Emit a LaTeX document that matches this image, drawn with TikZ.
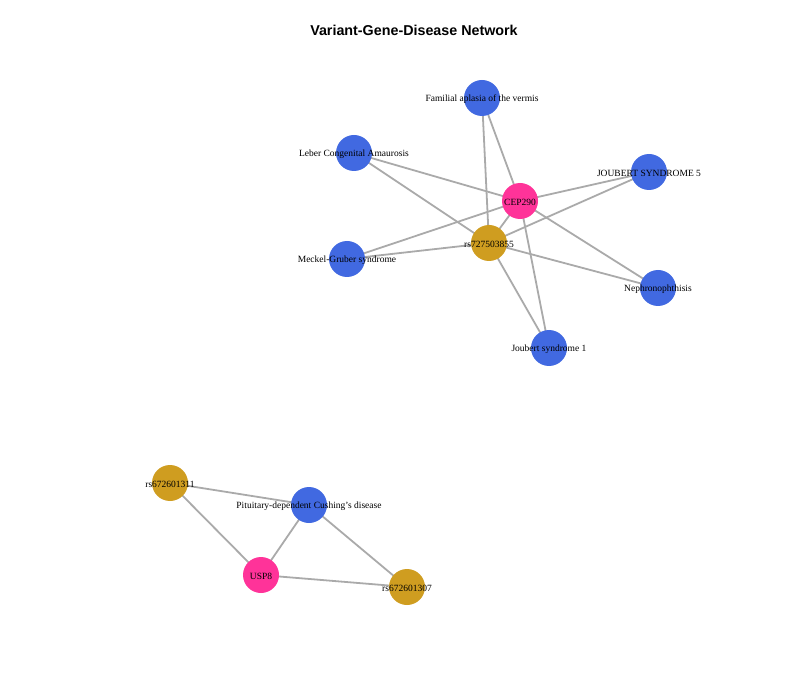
\documentclass[tikz,border=0pt]{standalone}
\usepackage{fontspec}
\setmainfont{Liberation Serif}
\newfontfamily\titlefont{Liberation Sans}
\usetikzlibrary{backgrounds}

\definecolor{diseaseblue}{RGB}{65,105,225}
\definecolor{genepink}{RGB}{255,51,153}
\definecolor{variantgold}{RGB}{207,157,32}
\definecolor{edgegray}{RGB}{170,170,170}

\begin{document}
\begin{tikzpicture}[x=1pt, y=-1pt,
% Node styles
		disease/.style={circle
							    , fill=diseaseblue
							    , minimum size=36pt
							    , inner sep=0pt},
		gene/.style={circle
							    , fill=genepink
							    , minimum size=36pt
							    , inner sep=0pt},
		variant/.style={circle
							    , fill=variantgold
							    , minimum size=36pt
							    , inner sep=0pt},
		every label/.style={font=\fontsize{9.5}{11}\selectfont
							    , inner sep=0pt
							    , yshift=-1pt},
% Edge style
		link/.style={draw=edgegray
							    , line width=1.8pt}
	]
	\useasboundingbox (0,0) rectangle (800,700);
	\node (title) at (414,30.5) {\titlefont\bfseries\fontsize{14.3}{16}\selectfont Variant-Gene-Disease Network};

%% Upper component
	\node [disease, label=center:{Familial aplasia of the vermis}] (d1) at (482,98) {};
	\node [disease, label=center:{Leber Congenital Amaurosis}] (d2) at (354,153) {};
	\node [disease, label=center:{JOUBERT SYNDROME 5}] (d3) at (649,172) {};
	\node [disease, label=center:{Meckel-Gruber syndrome}] (d4) at (347,259) {};
	\node [disease, label=center:{Nephronophthisis}] (d5) at (658,288) {};
	\node [disease, label=center:{Joubert syndrome 1}] (d6) at (549,348) {};
	\node [gene, label=center:{CEP290}] (g1) at (520,201) {};
	\node [variant, label=center:{rs727503855}] (v1) at (489,243) {};

%% Lower component
	\node [variant, label=center:{rs672601311}] (v2) at (170,483) {};
	\node [disease, label=center:{Pituitary-dependent Cushing's disease}] (d7) at (309,505) {};
	\node [gene, label=center:{USP8}] (g2) at (261,575) {};
	\node [variant, label=center:{rs672601307}] (v3) at (407,587) {};

%% Draw edges
	\begin{scope}[on background layer]
		\foreach \d in {d1,d2,d3,d4,d5,d6}{
			\draw [link] (g1.center) -- (\d.center);
			\draw [link] (v1.center) -- (\d.center);
		}
		\draw [link] (g1.center) -- (v1.center);
		\draw [link] (v2.center) -- (d7.center);
		\draw [link] (v2.center) -- (g2.center);
		\draw [link] (g2.center) -- (d7.center);
		\draw [link] (d7.center) -- (v3.center);
		\draw [link] (g2.center) -- (v3.center);
	\end{scope}
\end{tikzpicture}
\end{document}
